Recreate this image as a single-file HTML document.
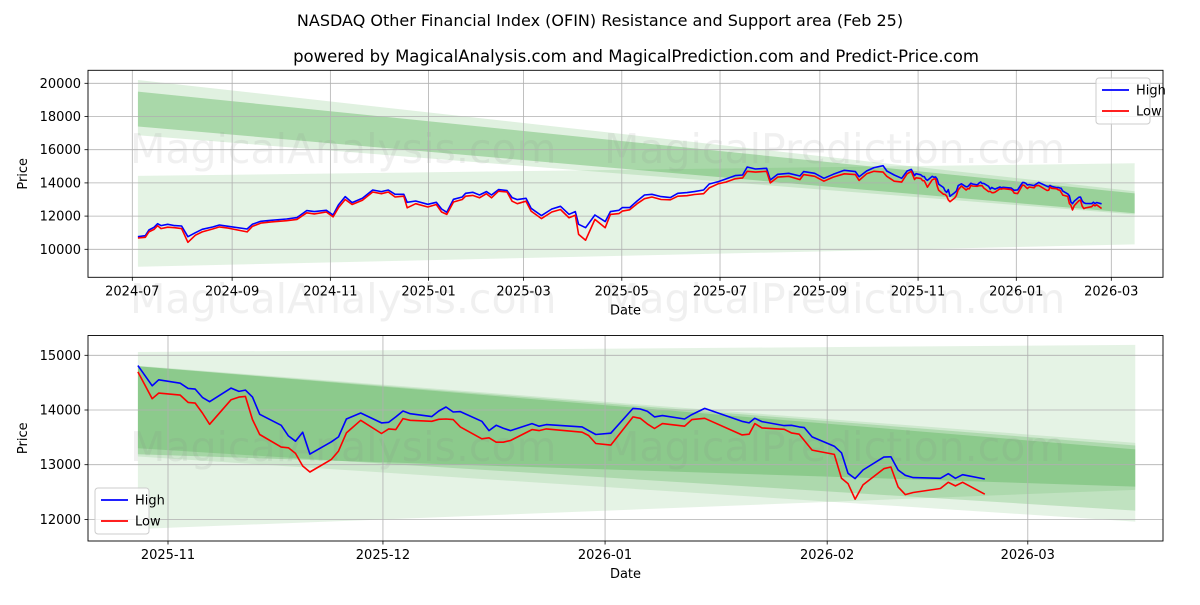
<!DOCTYPE html>
<html><head><meta charset="utf-8"><style>
body{margin:0;background:#fff;font-family:"Liberation Sans","DejaVu Sans",sans-serif}
svg text{font-family:"DejaVu Sans","Liberation Sans",sans-serif}
</style></head><body>
<svg id="c" width="1200" height="600" viewBox="0 0 1200 600" xmlns="http://www.w3.org/2000/svg">
<rect width="1200" height="600" fill="#fff"/>
<text x="600" y="26" text-anchor="middle" font-size="16">NASDAQ Other Financial Index (OFIN) Resistance and Support area (Feb 25)</text>
<text x="636" y="62" text-anchor="middle" font-size="16.5">powered by MagicalAnalysis.com and MagicalPrediction.com and Predict-Price.com</text>
<g id="top"></g><g id="bot"></g>
</svg>
<script>
// ---- data: top chart (days since 2024-07-01) ----
const topDays=[3.5,8.1,10.3,13.5,15.7,17.8,22,26.3,30.6,34.5,39.2,43.4,49.9,54.1,59.5,71.3,74.5,79.8,86.2,95.8,102.2,108.3,113,120.5,124.7,128,132.2,136.5,142.9,149.3,154.7,159,163.2,168.6,170.7,176,183.5,188.8,192.1,195.3,199.5,204.9,207,211.4,215.6,219.9,223.1,227.4,232.7,235.9,239.1,244.5,247.7,254.1,260.5,265.9,271.2,275.1,277.2,281.5,287.3,293.7,296.9,302.2,304.3,308.9,313.5,318.1,322.7,328.4,334.2,338.8,344.5,349.1,354.8,358.3,364,368.6,374.4,379,381.9,387,393.9,396.2,400.8,407.7,414.6,416.9,423.8,429.5,435.3,442.2,449.1,451.4,456,460.6,466.3,468.6,473.2,477.8,481.2];
const topHigh=[10759,10819,11163,11323,11545,11425,11505,11425,11404,10759,11000,11203,11344,11465,11384,11223,11505,11686,11746,11826,11907,12329,12269,12349,12068,12670,13172,12811,13072,13574,13474,13574,13313,13313,12831,12911,12710,12831,12430,12229,13012,13152,13373,13433,13273,13474,13273,13594,13534,13112,12992,13072,12469,12028,12430,12590,12108,12269,11505,11304,12068,11666,12269,12349,12510,12510,12911,13273,13313,13172,13112,13373,13413,13474,13574,13935,14076,14236,14437,14477,14959,14838,14878,14176,14517,14577,14417,14678,14577,14276,14517,14758,14678,14376,14718,14919,15039,14718,14477,14276,14718];
const topLow=[10680,10720,11050,11200,11420,11250,11330,11300,11250,10420,10850,11050,11220,11350,11280,11050,11380,11580,11650,11720,11800,12200,12130,12250,11950,12500,13000,12700,12950,13450,13350,13450,13150,13200,12500,12750,12550,12700,12250,12100,12850,13000,13200,13250,13100,13350,13100,13500,13450,12900,12750,12900,12300,11850,12250,12400,11900,12050,10900,10550,11800,11300,12100,12150,12300,12380,12750,13050,13150,13000,12980,13200,13230,13300,13350,13700,13950,14050,14250,14300,14700,14650,14700,14000,14350,14400,14200,14500,14400,14100,14350,14550,14500,14150,14550,14700,14650,14400,14100,14050,14550];
// ---- data: recent detail (days since 2025-11-01) ----
const recDays=[-4.2,-2.2,-1.3,1.7,2.8,3.8,4.8,5.8,8.8,9.9,10.8,11.8,12.8,15.8,16.8,17.8,18.8,19.8,22.8,23.8,24.9,26.9,29.8,30.8,31.8,32.8,33.8,36.8,37.8,38.8,39.8,40.8,43.8,44.8,45.8,46.8,47.8,50.8,51.8,52.8,57.8,58.7,59.7,61.8,64.9,65.9,66.9,67.9,69.0,72.1,73.1,74.9,80.1,81.1,81.9,82.9,86.0,87.0,88.1,88.8,89.9,93.0,94.0,94.9,95.9,97.0,99.9,100.9,101.9,102.9,104.0,107.8,108.9,109.9,110.9,114.0];
const recHigh=[14812,14442,14552,14490,14394,14382,14230,14152,14400,14340,14364,14236,13921,13721,13527,13430,13594,13194,13418,13509,13836,13945,13764,13776,13873,13982,13933,13879,13982,14055,13964,13970,13794,13624,13721,13667,13624,13752,13703,13733,13691,13624,13552,13576,14030,14018,13976,13873,13897,13836,13915,14030,13794,13764,13848,13788,13715,13721,13691,13679,13509,13339,13218,12842,12745,12903,13139,13145,12903,12806,12764,12752,12836,12752,12818,12739];
const recLow=[14697,14206,14309,14273,14139,14127,13945,13739,14188,14236,14248,13824,13552,13321,13309,13206,12976,12867,13097,13248,13582,13812,13570,13655,13642,13842,13812,13794,13830,13836,13824,13691,13473,13491,13412,13412,13442,13642,13624,13655,13594,13533,13388,13358,13873,13848,13745,13661,13752,13703,13824,13848,13545,13558,13752,13673,13648,13582,13558,13442,13267,13188,12752,12655,12370,12630,12927,12958,12594,12454,12491,12564,12679,12612,12679,12460];
// band data: [startTop,endTop,startBottom,endBottom]
const topBandStart=3.5, topBandEnd=622.5;
const topBands=[[20200,13500,16870,12100],[19500,13370,17400,12170],[14420,15180,8950,10300]];
const topBandAlpha=[0.15,0.3,0.13];
const botBandStart=-4.2, botBandEnd=135;
const botBands=[[15060,15190,11824,12540],[14810,13400,13150,11960],[14800,13350,13300,12160],[14800,13280,13190,12600]];
const botBandAlpha=[0.12,0.12,0.2,0.25];
const topTickDays=[0,62,123,184,243,304,365,427,488,549,608];
const topTickLabels=["2024-07","2024-09","2024-11","2025-01","2025-03","2025-05","2025-07","2025-09","2025-11","2026-01","2026-03"];
const topYTicks=[10000,12000,14000,16000,18000,20000];
const botTickDays=[0,30,61,92,120];
const botTickLabels=["2025-11","2025-12","2026-01","2026-02","2026-03"];
const botYTicks=[12000,13000,14000,15000];

const NS="http://www.w3.org/2000/svg";
function mk(p,t,a){const e=document.createElementNS(NS,t);for(const k in a)e.setAttribute(k,a[k]);p.appendChild(e);return e;}
function panel(g,o){
  const L=88,R=1163,T=o.T,B=o.B;
  const X=d=>o.x0+d*o.kx, Y=v=>o.y0-(v-o.v0)*o.ky;
  o.bands.forEach((b,i)=>{
    const x1=X(o.bs),x2=X(o.be);
    const p=mk(g,'polygon',{points:`${x1},${Y(b[0])} ${x2},${Y(b[1])} ${x2},${Y(b[3])} ${x1},${Y(b[2])}`,fill:'rgb(44,160,44)','fill-opacity':o.alpha[i]});
    
    
  });
  o.wm.forEach(w=>{const t=mk(g,'text',{x:w[0],y:w[1],'font-size':41,fill:'#888','fill-opacity':0.13});t.textContent=w[2];
    
    });
  o.td.forEach((d,i)=>{const x=X(d);
    mk(g,'line',{x1:x,x2:x,y1:T,y2:B,stroke:'#b0b0b0','stroke-width':0.8});
    mk(g,'line',{x1:x,x2:x,y1:B,y2:B+3.5,stroke:'#000','stroke-width':0.8});
    const t=mk(g,'text',{x:x,y:B+18,'text-anchor':'middle','font-size':13});t.textContent=o.tl[i];
    
    });
  o.yt.forEach(v=>{const y=Y(v);
    mk(g,'line',{x1:L,x2:R,y1:y,y2:y,stroke:'#b0b0b0','stroke-width':0.8});
    mk(g,'line',{x1:L-3.5,x2:L,y1:y,y2:y,stroke:'#000','stroke-width':0.8});
    const t=mk(g,'text',{x:L-7,y:y+4.5,'text-anchor':'end','font-size':13});t.textContent=v;
    
    });
  [[o.hi,'#0000ff','high-line'],[o.lo,'#ff0000','low-line']].forEach(s=>{
    const pts=o.days.map((d,i)=>X(d).toFixed(1)+','+Y(s[0][i]).toFixed(1)).join(' ');
    const pl=mk(g,'polyline',{points:pts,fill:'none',stroke:s[1],'stroke-width':1.6,'stroke-linejoin':'round'});
    
    
  });
  const fr=mk(g,'rect',{x:L,y:T,width:R-L,height:B-T,fill:'none',stroke:'#000','stroke-width':0.9});
  
  
  const xt=mk(g,'text',{x:(L+R)/2,y:B+37,'text-anchor':'middle','font-size':13});xt.textContent='Date';
  
  
  const yt=mk(g,'text',{x:0,y:0,'text-anchor':'middle','font-size':13,transform:`translate(27,${(T+B)/2}) rotate(-90)`});yt.textContent='Price';
  
  
  const lx=o.lg[0],ly=o.lg[1];
  const lr=mk(g,'rect',{x:lx,y:ly,width:54,height:46,rx:3,fill:'#fff','fill-opacity':0.8,stroke:'#ccc'});
  
  
  [['High','#0000ff'],['Low','#ff0000']].forEach((e,i)=>{
    const y=ly+12+i*21;
    mk(g,'line',{x1:lx+6,x2:lx+33,y1:y,y2:y,stroke:e[1],'stroke-width':1.8});
    const t=mk(g,'text',{x:lx+40,y:y+4.5,'font-size':13});t.textContent=e[0];
    
    
  });
}
const allDays=topDays.concat(recDays.map(d=>d+488));
panel(document.getElementById('top'),{T:70.3,B:277.3,x0:132.3,kx:1.6102,y0:249.3,v0:10000,ky:0.0166,
  bands:topBands,alpha:topBandAlpha,bs:topBandStart,be:topBandEnd,
  days:allDays,hi:topHigh.concat(recHigh),lo:topLow.concat(recLow),
  td:topTickDays,tl:topTickLabels,yt:topYTicks,lg:[1096,78],
  wm:[[130,163,'MagicalAnalysis.com'],[604,163,'MagicalPrediction.com'],[130,313,'MagicalAnalysis.com'],[604,313,'MagicalPrediction.com']]});
panel(document.getElementById('bot'),{T:335.5,B:541,x0:168,kx:7.165,y0:355.3,v0:15000,ky:0.0547,
  bands:botBands,alpha:botBandAlpha,bs:botBandStart,be:botBandEnd,
  days:recDays,hi:recHigh,lo:recLow,
  td:botTickDays,tl:botTickLabels,yt:botYTicks,lg:[95,488],
  wm:[[130,461,'MagicalAnalysis.com'],[604,461,'MagicalPrediction.com']]});
</script>
</body></html>
